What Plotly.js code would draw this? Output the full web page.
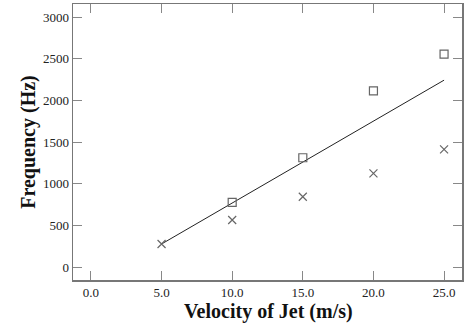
<!DOCTYPE html>
<html>
<head>
<meta charset="utf-8">
<script src="https://cdn.plot.ly/plotly-3.0.1.min.js"></script>
<style>html,body{margin:0;padding:0;background:#fff;}#chart{width:465px;height:327px;}</style>
</head>
<body>
<div id="chart"></div>
<script>
// Data
var velocity = [5, 10, 15, 20, 25];
var freqSquares = [null, 776, 1311, 2114, 2554];
var freqCrosses = [276, 564, 843, 1124, 1411];
var fitX = [5, 25];
var fitY = [276, 2242];
var xTickVals = [0, 5, 10, 15, 20, 25];
var xTickText = ['0.0', '5.0', '10.0', '15.0', '20.0', '25.0'];
var yTickVals = [0, 500, 1000, 1500, 2000, 2500, 3000];

var serif = 'Liberation Serif, Times New Roman, serif';
var traces = [
  {x: fitX, y: fitY, mode: 'lines', line: {color: '#222', width: 1}, hoverinfo: 'skip'},
  {x: velocity, y: freqSquares, mode: 'markers',
   marker: {symbol: 'square-open', size: 8, color: '#666', line: {width: 1.2}}},
  {x: velocity, y: freqCrosses, mode: 'markers',
   marker: {symbol: 'x-thin-open', size: 8, color: '#666', line: {width: 1.2}}}
];
var axisCommon = {
  showgrid: false, zeroline: false, showline: true, mirror: 'ticks',
  linecolor: '#777', linewidth: 1.5, ticks: 'inside', ticklen: 9, tickwidth: 1,
  tickcolor: '#888', tickfont: {family: serif, size: 13, color: '#222'}
};
var layout = {
  width: 465, height: 327,
  margin: {l: 73, r: 3, t: 4, b: 47},
  paper_bgcolor: '#fff', plot_bgcolor: '#fff',
  showlegend: false,
  xaxis: Object.assign({}, axisCommon, {
    range: [-1.27, 26.27], tickvals: xTickVals, ticktext: xTickText
  }),
  yaxis: Object.assign({}, axisCommon, {
    range: [-156, 3156], tickvals: yTickVals,
    title: {text: '<b>Frequency (Hz)</b>', font: {family: serif, size: 20, color: '#111'}, standoff: 2}
  }),
  annotations: [{
    text: '<b>Velocity of Jet (m/s)</b>', xref: 'paper', yref: 'paper',
    x: 0.502, y: 0, xanchor: 'center', yanchor: 'top', yshift: -18.5, borderpad: 0, showarrow: false,
    font: {family: serif, size: 20, color: '#111'}
  }]
};
Plotly.newPlot('chart', traces, layout, {displayModeBar: false, staticPlot: true});
</script>
</body>
</html>
